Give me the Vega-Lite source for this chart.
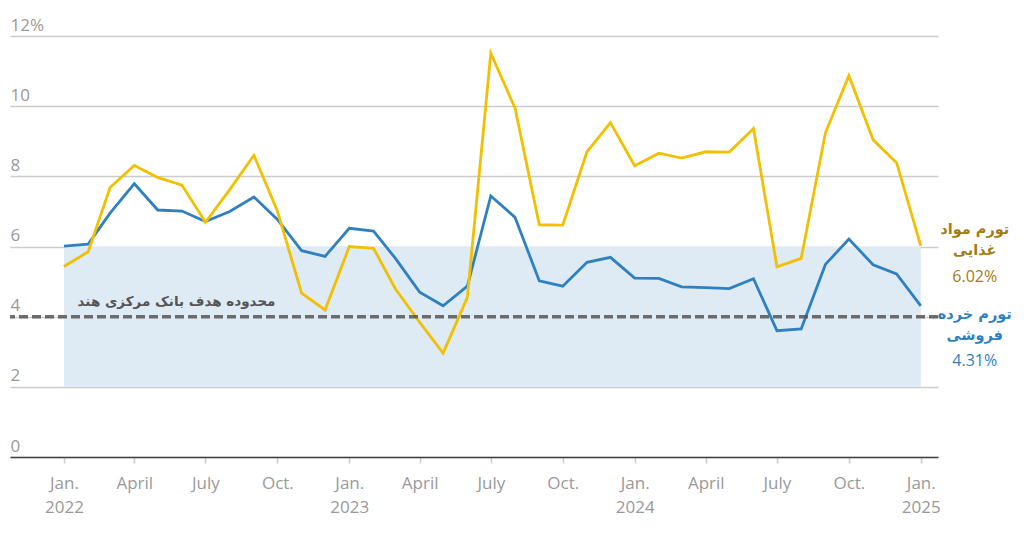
{
  "$schema": "https://vega.github.io/schema/vega-lite/v6.json",
  "autosize": "none",
  "width": 928,
  "height": 421,
  "padding": {"left": 10, "top": 36, "right": 86, "bottom": 91},
  "background": "white",
  "config": {"view": {"stroke": null}, "font": "Open Sans"},
  "datasets": {
    "cpi": [
      {"date": "2022-01-01", "retail": 6.01, "food": 5.43},
      {"date": "2022-02-01", "retail": 6.07, "food": 5.85},
      {"date": "2022-03-01", "retail": 6.95, "food": 7.68},
      {"date": "2022-04-01", "retail": 7.79, "food": 8.31},
      {"date": "2022-05-01", "retail": 7.04, "food": 7.97},
      {"date": "2022-06-01", "retail": 7.01, "food": 7.75},
      {"date": "2022-07-01", "retail": 6.71, "food": 6.69},
      {"date": "2022-08-01", "retail": 7.00, "food": 7.62},
      {"date": "2022-09-01", "retail": 7.41, "food": 8.60},
      {"date": "2022-10-01", "retail": 6.77, "food": 7.01},
      {"date": "2022-11-01", "retail": 5.88, "food": 4.67},
      {"date": "2022-12-01", "retail": 5.72, "food": 4.19},
      {"date": "2023-01-01", "retail": 6.52, "food": 6.00},
      {"date": "2023-02-01", "retail": 6.44, "food": 5.95},
      {"date": "2023-03-01", "retail": 5.66, "food": 4.79},
      {"date": "2023-04-01", "retail": 4.70, "food": 3.84},
      {"date": "2023-05-01", "retail": 4.31, "food": 2.96},
      {"date": "2023-06-01", "retail": 4.87, "food": 4.55},
      {"date": "2023-07-01", "retail": 7.44, "food": 11.51},
      {"date": "2023-08-01", "retail": 6.83, "food": 9.94},
      {"date": "2023-09-01", "retail": 5.02, "food": 6.62},
      {"date": "2023-10-01", "retail": 4.87, "food": 6.61},
      {"date": "2023-11-01", "retail": 5.55, "food": 8.70},
      {"date": "2023-12-01", "retail": 5.69, "food": 9.53},
      {"date": "2024-01-01", "retail": 5.10, "food": 8.30},
      {"date": "2024-02-01", "retail": 5.09, "food": 8.66},
      {"date": "2024-03-01", "retail": 4.85, "food": 8.52},
      {"date": "2024-04-01", "retail": 4.83, "food": 8.70},
      {"date": "2024-05-01", "retail": 4.80, "food": 8.69},
      {"date": "2024-06-01", "retail": 5.08, "food": 9.36},
      {"date": "2024-07-01", "retail": 3.60, "food": 5.42},
      {"date": "2024-08-01", "retail": 3.65, "food": 5.66},
      {"date": "2024-09-01", "retail": 5.49, "food": 9.24},
      {"date": "2024-10-01", "retail": 6.21, "food": 10.87},
      {"date": "2024-11-01", "retail": 5.48, "food": 9.04},
      {"date": "2024-12-01", "retail": 5.22, "food": 8.39},
      {"date": "2025-01-01", "retail": 4.31, "food": 6.02}
    ],
    "band": [{"start": "2022-01-01", "end": "2025-01-01", "lo": 2, "hi": 6}],
    "titles": [
      {"date": "2025-03-11", "value": 6.47, "text": "تورم مواد", "kind": "food"},
      {"date": "2025-03-11", "value": 5.86, "text": "غذایی", "kind": "food"},
      {"date": "2025-03-11", "value": 4.04, "text": "تورم خرده", "kind": "retail"},
      {"date": "2025-03-11", "value": 3.45, "text": "فروشی", "kind": "retail"}
    ],
    "nums": [
      {"date": "2025-03-11", "value": 5.13, "text": "6.02%", "kind": "food"},
      {"date": "2025-03-11", "value": 2.73, "text": "4.31%", "kind": "retail"}
    ],
    "annot": [{"date": "2022-05-25", "value": 4.42, "text": "محدوده هدف بانک مرکزی هند"}]
  },
  "layer": [
    {
      "data": {"name": "band"},
      "mark": {"type": "rect", "color": "#deeaf4"},
      "encoding": {
        "x": {
          "field": "start", "type": "temporal",
          "scale": {"type": "utc", "domain": [{"year": 2021, "month": 10, "date": 24, "utc": true}, {"year": 2025, "month": 1, "date": 23, "utc": true}]},
          "axis": {
            "title": null,
            "values": [
              {"year": 2022, "month": 1, "date": 1, "utc": true},
              {"year": 2022, "month": 4, "date": 1, "utc": true},
              {"year": 2022, "month": 7, "date": 1, "utc": true},
              {"year": 2022, "month": 10, "date": 1, "utc": true},
              {"year": 2023, "month": 1, "date": 1, "utc": true},
              {"year": 2023, "month": 4, "date": 1, "utc": true},
              {"year": 2023, "month": 7, "date": 1, "utc": true},
              {"year": 2023, "month": 10, "date": 1, "utc": true},
              {"year": 2024, "month": 1, "date": 1, "utc": true},
              {"year": 2024, "month": 4, "date": 1, "utc": true},
              {"year": 2024, "month": 7, "date": 1, "utc": true},
              {"year": 2024, "month": 10, "date": 1, "utc": true},
              {"year": 2025, "month": 1, "date": 1, "utc": true}
            ],
            "labelExpr": "utcmonth(datum.value) == 0 ? ['Jan.', utcFormat(datum.value, '%Y')] : utcmonth(datum.value) == 3 ? 'April' : utcmonth(datum.value) == 6 ? 'July' : 'Oct.'",
            "grid": false,
            "domainColor": "#444",
            "domainWidth": 1.5,
            "tickColor": "#cccccc",
            "tickWidth": 1.5,
            "tickSize": 6,
            "labelColor": "#999999",
            "labelFontSize": 17,
            "labelPadding": 12,
            "labelLineHeight": 24,
            "labelBaseline": "top",
            "labelFlush": false,
            "labelOverlap": false
          }
        },
        "x2": {"field": "end"},
        "y": {
          "field": "lo", "type": "quantitative",
          "scale": {"domain": [0, 12], "nice": false, "zero": true},
          "axis": {
            "title": null,
            "values": [0, 2, 4, 6, 8, 10, 12],
            "labelExpr": "datum.value == 12 ? '12%' : datum.label",
            "domain": false,
            "ticks": false,
            "grid": true,
            "gridColor": "#cccccc",
            "gridWidth": 1.5,
            "labelAlign": "left",
            "labelBaseline": "alphabetic",
            "labelPadding": 0,
            "labelOffset": -6,
            "labelColor": "#999999",
            "labelFontSize": 17,
            "labelFlush": false
          }
        },
        "y2": {"field": "hi"}
      }
    },
    {
      "data": {"name": "cpi"},
      "mark": {"type": "line", "color": "#2f80c0", "strokeWidth": 2.8},
      "encoding": {
        "x": {"field": "date", "type": "temporal"},
        "y": {"field": "retail", "type": "quantitative"}
      }
    },
    {
      "data": {"name": "cpi"},
      "mark": {"type": "line", "color": "#f2c000", "strokeWidth": 2.8},
      "encoding": {
        "x": {"field": "date", "type": "temporal"},
        "y": {"field": "food", "type": "quantitative"}
      }
    },
    {
      "data": {"values": [{"v": 4}]},
      "mark": {"type": "rule", "color": "#555555", "opacity": 0.85, "strokeWidth": 3.5, "strokeDash": [9, 4]},
      "encoding": {"y": {"field": "v", "type": "quantitative"}}
    },
    {
      "data": {"name": "annot"},
      "mark": {"type": "text", "color": "#555555", "fontSize": 13.5, "fontWeight": "bold", "align": "center", "baseline": "middle", "font": "DejaVu Sans"},
      "encoding": {
        "x": {"field": "date", "type": "temporal"},
        "y": {"field": "value", "type": "quantitative"},
        "text": {"field": "text"}
      }
    },
    {
      "data": {"name": "titles"},
      "mark": {"type": "text", "fontSize": 14.5, "fontWeight": "bold", "font": "DejaVu Sans", "align": "center", "baseline": "middle", "clip": false},
      "encoding": {
        "x": {"field": "date", "type": "temporal"},
        "y": {"field": "value", "type": "quantitative"},
        "text": {"field": "text"},
        "color": {
          "field": "kind", "type": "nominal", "legend": null,
          "scale": {"domain": ["food", "retail"], "range": ["#a37c12", "#2f7fc1"]}
        }
      }
    },
    {
      "data": {"name": "nums"},
      "mark": {"type": "text", "fontSize": 16, "align": "center", "baseline": "middle", "clip": false},
      "encoding": {
        "x": {"field": "date", "type": "temporal"},
        "y": {"field": "value", "type": "quantitative"},
        "text": {"field": "text"},
        "color": {
          "field": "kind", "type": "nominal", "legend": null,
          "scale": {"domain": ["food", "retail"], "range": ["#c09a3c", "#5b9bd3"]}
        }
      }
    }
  ]
}
